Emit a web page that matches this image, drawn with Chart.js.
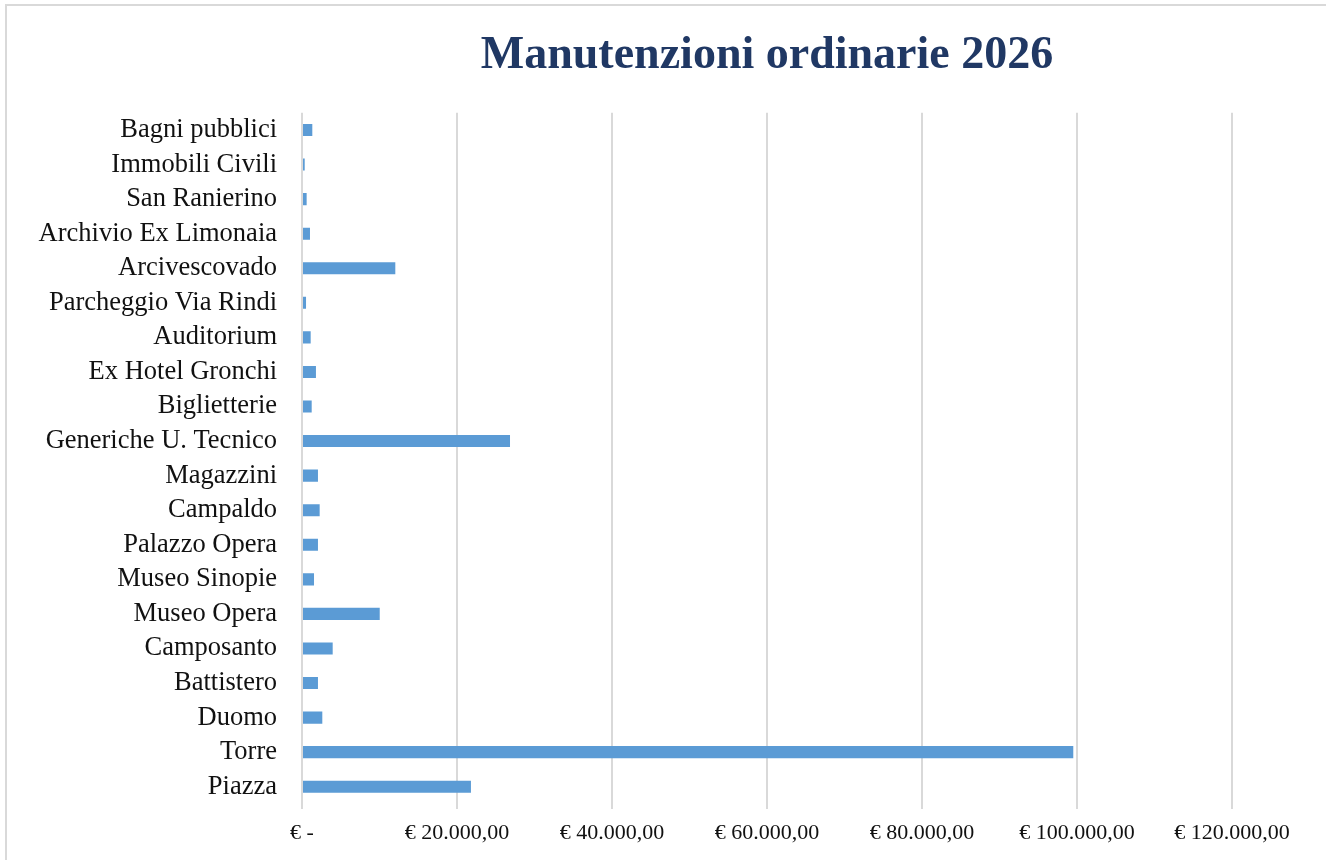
<!DOCTYPE html>
<html lang="it">
<head>
<meta charset="utf-8">
<title>Manutenzioni ordinarie 2026</title>
<script src="https://cdn.jsdelivr.net/npm/chart.js@4/dist/chart.umd.min.js"></script>
<style>
    html, body { margin: 0; padding: 0; background: #fff; overflow: hidden; }
    #wrap { position: relative; width: 1326px; height: 860px; }
    #frame {
        position: absolute; left: 5px; top: 4px; width: 1400px; height: 900px;
        border: 2px solid #d9d9d9; pointer-events: none;
    }
    canvas { position: absolute; left: 0; top: 0; }
</style>
</head>
<body>
<div id="wrap">
    <canvas id="manutenzioniChart" width="1326" height="860"></canvas>
    <div id="frame"></div>
</div>
<script>
// Dati del grafico (dall'alto verso il basso)
const categorie = [
    'Bagni pubblici', 'Immobili Civili', 'San Ranierino', 'Archivio Ex Limonaia',
    'Arcivescovado', 'Parcheggio Via Rindi', 'Auditorium', 'Ex Hotel Gronchi',
    'Biglietterie', 'Generiche U. Tecnico', 'Magazzini', 'Campaldo',
    'Palazzo Opera', 'Museo Sinopie', 'Museo Opera', 'Camposanto',
    'Battistero', 'Duomo', 'Torre', 'Piazza'
];
const importi = [
    1330, 350, 600, 1030,
    12040, 520, 1120, 1800,
    1250, 26840, 2060, 2280,
    2060, 1550, 10030, 3960,
    2060, 2620, 99520, 21800
];
const etichetteAsseX = [
    '€ -', '€ 20.000,00', '€ 40.000,00', '€ 60.000,00',
    '€ 80.000,00', '€ 100.000,00', '€ 120.000,00'
];

const serif = '"Liberation Serif", "Times New Roman", serif';
const grigio = '#d9d9d9';

document.addEventListener('DOMContentLoaded', function () {
    const ctx = document.getElementById('manutenzioniChart');

    new Chart(ctx, {
        type: 'bar',
        data: {
            labels: categorie,
            datasets: [{
                data: importi,
                backgroundColor: '#5b9bd5',
                borderWidth: 0,
                barPercentage: 0.35,
                categoryPercentage: 1
            }]
        },
        options: {
            indexAxis: 'y',
            responsive: false,
            animation: false,
            devicePixelRatio: 1,
            layout: {
                padding: { top: 29, left: 0, right: 94, bottom: 0 }
            },
            plugins: {
                legend: { display: false },
                tooltip: { enabled: false },
                title: {
                    display: true,
                    text: 'Manutenzioni ordinarie 2026',
                    fullSize: false,
                    color: '#203864',
                    font: { family: serif, size: 46, weight: 'bold' },
                    padding: { top: 0, bottom: 28.5 }
                }
            },
            scales: {
                x: {
                    min: 0,
                    max: 120000,
                    ticks: {
                        stepSize: 20000,
                        color: '#111',
                        font: { family: serif, size: 22 },
                        padding: 11,
                        maxRotation: 0,
                        callback: function (value, index) {
                            return etichetteAsseX[index];
                        }
                    },
                    grid: {
                        color: grigio,
                        lineWidth: 2,
                        tickLength: 5,
                        tickColor: grigio
                    },
                    border: { display: false },
                    afterFit: function (scale) {
                        scale.height = 56;
                    }
                },
                y: {
                    ticks: {
                        color: '#111',
                        font: { family: serif, size: 26.5 },
                        padding: 25,
                        autoSkip: false
                    },
                    grid: { display: false, drawTicks: false },
                    border: { display: false },
                    afterFit: function (scale) {
                        scale.width = 302;
                    }
                }
            }
        }
    });
});
</script>
</body>
</html>
